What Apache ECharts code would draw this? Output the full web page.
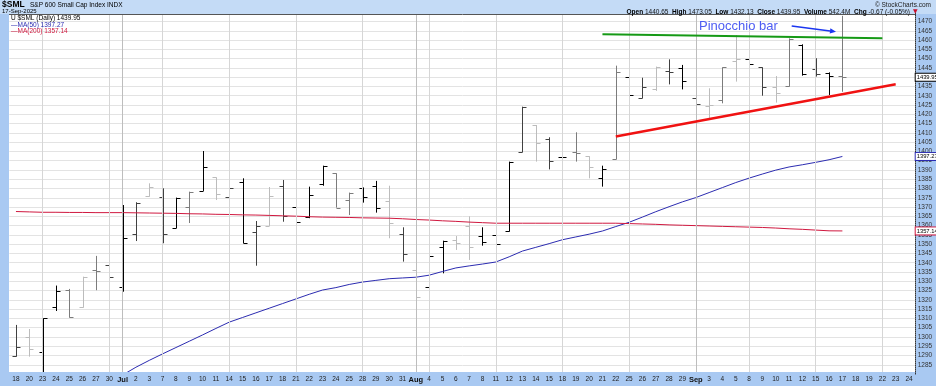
<!DOCTYPE html>
<html><head><meta charset="utf-8">
<script src="https://cdn.jsdelivr.net/npm/echarts@6/dist/echarts.min.js"></script>
<style>html,body{margin:0;padding:0;background:#fff}#c{width:936px;height:386px}</style>
</head><body><div id="c"></div>
<script>
// ---------- DATA ----------
const dates = [
 '2025-06-18','2025-06-20','2025-06-23','2025-06-24','2025-06-25','2025-06-26','2025-06-27','2025-06-30',
 '2025-07-01','2025-07-02','2025-07-03','2025-07-07','2025-07-08','2025-07-09','2025-07-10','2025-07-11',
 '2025-07-14','2025-07-15','2025-07-16','2025-07-17','2025-07-18','2025-07-21','2025-07-22','2025-07-23',
 '2025-07-24','2025-07-25','2025-07-28','2025-07-29','2025-07-30','2025-07-31',
 '2025-08-01','2025-08-04','2025-08-05','2025-08-06','2025-08-07','2025-08-08','2025-08-11','2025-08-12',
 '2025-08-13','2025-08-14','2025-08-15','2025-08-18','2025-08-19','2025-08-20','2025-08-21','2025-08-22',
 '2025-08-25','2025-08-26','2025-08-27','2025-08-28','2025-08-29',
 '2025-09-02','2025-09-03','2025-09-04','2025-09-05','2025-09-08','2025-09-09','2025-09-10','2025-09-11',
 '2025-09-12','2025-09-15','2025-09-16','2025-09-17','2025-09-18','2025-09-19','2025-09-22','2025-09-23','2025-09-24'
];
const tickLabels = [
 '18','20','23','24','25','26','27','30',
 'Jul','2','3','7','8','9','10','11','14','15','16','17','18','21','22','23','24','25','28','29','30','31',
 'Aug','4','5','6','7','8','11','12','13','14','15','18','19','20','21','22','25','26','27','28','29',
 'Sep','3','4','5','8','9','10','11','12','15','16','17','18','19','22','23','24'
];
const monthStartLabels = ['Jul','Aug','Sep'];

const opens = [1290.0,1299.9,1291.7,1316.4,1325.4,1316.0,1336.3,1338.8,1327.1,1355.3,
 1376.0,1375.6,1358.8,1370.2,1378.9,1386.0,1375.3,1383.7,1356.4,1359.8,
 1381.4,1369.9,1364.9,1382.6,1388.2,1373.6,1380.1,1381.2,1373.1,1355.3,
 1336.1,1326.8,1348.7,1352.3,1359.8,1354.2,1355.0,1357.1,1399.5,1414.1,
 1406.7,1397.2,1399.5,1397.4,1385.5,1395.7,1440.1,1428.6,1433.6,1443.3,
 1444.8,1428.6,1424.5,1427.5,1448.9,1449.6,1445.3,1434.9,1435.3,1457.4,
 1444.4,1442.3,1440.65];
const highs = [1306.5,1304.3,1310.1,1327.7,1325.9,1332.5,1343.7,1341.0,1371.1,1372.6,
 1382.8,1380.1,1375.1,1378.3,1400.2,1386.0,1380.1,1385.5,1362.5,1380.8,
 1384.6,1376.0,1381.0,1392.3,1388.2,1377.8,1380.6,1384.1,1381.5,1359.1,
 1336.1,1343.8,1351.9,1354.4,1365.0,1359.1,1360.4,1394.5,1424.1,1414.2,
 1407.6,1401.3,1410.3,1397.4,1392.3,1446.2,1440.3,1439.7,1445.7,1449.6,
 1446.6,1428.6,1434.0,1445.3,1462.7,1449.6,1445.3,1440.6,1460.9,1457.7,
 1450.2,1442.6,1473.05];
const lows = [1289.4,1289.4,1281.0,1314.0,1310.4,1315.8,1325.2,1329.8,1324.4,1351.7,
 1375.6,1350.5,1358.6,1361.4,1378.7,1373.8,1370.8,1350.5,1338.4,1359.8,
 1362.1,1360.9,1364.0,1381.5,1369.7,1365.7,1372.4,1367.0,1353.2,1340.6,
 1303.8,1326.6,1334.3,1346.9,1341.5,1349.2,1347.8,1356.8,1399.5,1394.5,
 1390.3,1393.2,1394.5,1385.5,1381.0,1395.7,1429.9,1428.6,1432.6,1436.1,
 1433.4,1415.5,1417.8,1425.9,1437.6,1435.3,1430.0,1426.3,1434.9,1440.8,
 1440.3,1430.4,1432.13];
const closes = [1294.8,1293.6,1310.0,1324.8,1310.8,1332.3,1335.6,1332.5,1353.5,1372.0,
 1380.7,1355.3,1374.7,1378.0,1391.4,1376.9,1380.1,1350.5,1360.0,1376.0,
 1365.0,1361.8,1376.5,1392.0,1369.7,1377.4,1375.6,1369.7,1361.2,1344.5,
 1321.4,1343.6,1351.6,1350.5,1348.3,1351.4,1349.9,1394.5,1424.0,1404.5,
 1394.8,1397.2,1399.0,1391.4,1390.3,1442.6,1430.2,1434.7,1445.3,1443.0,
 1437.9,1425.4,1425.0,1445.3,1449.6,1446.9,1434.9,1431.3,1460.4,1441.5,
 1441.7,1440.62,1439.95];

const sma50 = [null,null,null,null,null,null,
 1272.0,1275.8,1279.5,1283.7,1287.4,1290.9,1294.3,1297.7,1301.1,1304.6,
 1308.0,1310.5,1313.0,1315.5,1318.0,1320.5,1323.0,1325.3,1326.6,1328.3,
 1329.6,1330.5,1331.4,1331.8,1332.2,1333.3,1335.3,1337.2,1338.3,1339.3,
 1340.4,1343.2,1346.3,1348.3,1350.3,1352.4,1353.9,1355.4,1357.1,1359.5,
 1361.8,1364.6,1367.5,1370.2,1372.8,1375.1,1377.8,1380.5,1383.2,1385.6,
 1387.8,1389.9,1391.6,1392.8,1394.1,1395.5,1397.27,
 null,null,null,null,null];
const sma200 = [1367.6,1367.4,1367.2,1367.2,1367.1,1367.1,1367.0,1367.0,1367.0,1366.9,
 1366.8,1366.7,1366.6,1366.4,1366.3,1366.1,1366.0,1365.8,1365.7,1365.5,
 1365.3,1365.1,1364.8,1364.6,1364.5,1364.4,1364.2,1364.1,1364.0,1363.7,
 1363.3,1363.0,1362.6,1362.3,1361.9,1361.6,1361.3,1361.3,1361.3,1361.3,
 1361.3,1361.3,1361.3,1361.3,1361.3,1361.3,1361.1,1360.9,1360.7,1360.4,
 1360.2,1360.0,1359.8,1359.6,1359.4,1359.2,1359.0,1358.7,1358.3,1358.0,
 1357.6,1357.2,1357.14,
 null,null,null,null,null];

// trendlines drawn by hand on the original chart: [category index, value]
const greenTrend = [[44,1463.1],[65,1461.0]];
const redTrend = [[45,1408.0],[66,1436.2]];

const headerStats = {open:'1440.65', high:'1473.05', low:'1432.13', close:'1439.95', volume:'542.4M', chg:'-0.67 (-0.05%)'};

// ---------- STYLE ----------
const barTone = "dlkkglgdkdldkgkldkdldkkkggkkldlkkllkkkdldkglkgkdldkdlglkdlgkdkg";
const toneColor = {k:'#000000', d:'#404040', g:'#7c7c7c', l:'#bcbcbc'};
const FONT = 'Liberation Sans, Arial, sans-serif';
const BAND = '#a9c9f2';

const chart = echarts.init(document.getElementById('c'), null, {renderer:'canvas'});

const ohlc = opens.map((o,i)=>[i,o,highs[i],lows[i],closes[i]]);

// vertical gridlines: first trading day of each week & of each month
const vLines = [];
for (let i=1;i<dates.length;i++){
  const d = new Date(dates[i]+'T12:00:00Z'), p = new Date(dates[i-1]+'T12:00:00Z');
  const newMonth = d.getUTCMonth()!==p.getUTCMonth();
  const newWeek = d.getUTCDay()<=p.getUTCDay() || (d-p)>4*86400000;
  if (newMonth||newWeek) vLines.push({xAxis:dates[i], lineStyle:{color:newMonth?'#bdbdbd':'#d6d6d6', width:1, type:'solid'}});
}

const last = closes.length-1;
function boxLabel(v, col){
  return {yAxis:v, lineStyle:{color:'rgba(0,0,0,0)', width:1, opacity:1}, label:{show:true, position:'end', distance:0,
    formatter: v.toFixed(2), color:'#000', backgroundColor:'#fff', borderColor:col, borderWidth:1,
    padding:[1,0,0,1], fontSize:5.8, fontFamily:FONT, opacity:1}};
}

const arrowStart=[791.7,26], arrowEnd=[836,31.7];
const adx=arrowEnd[0]-arrowStart[0], ady=arrowEnd[1]-arrowStart[1], alen=Math.hypot(adx,ady);
const ux=adx/alen, uy=ady/alen;
const hb=[arrowEnd[0]-6*ux, arrowEnd[1]-6*uy];

const option = {
  animation:false,
  backgroundColor:'#ffffff',
  grid:{left:9.3, right:20.3, top:12.2, bottom:11.9, containLabel:false},
  xAxis:{type:'category', data:dates, boundaryGap:true, z:60,
    axisLine:{show:false}, axisTick:{show:false}, splitLine:{show:false},
    axisLabel:{interval:0, margin:1.5, color:'#222', fontFamily:FONT,
      formatter:(v,idx)=>{const t=tickLabels[idx]; return monthStartLabels.includes(t)?'{m|'+t+'}':'{d|'+t+'}';},
      rich:{m:{fontWeight:'bold',fontSize:7.5,fontFamily:FONT,color:'#111'}, d:{fontSize:6.5,fontFamily:FONT,color:'#222'}}}},
  yAxis:[
    {type:'value', min:1280, max:1475, interval:5, position:'right', z:0,
      axisLine:{show:false}, axisTick:{show:false}, axisLabel:{show:false},
      splitLine:{show:true, lineStyle:{color:'#e3e3e3', width:1}}},
    {type:'value', min:1280, max:1475, interval:5, position:'right', z:60,
      axisLine:{show:true, lineStyle:{color:'#333', type:'dotted', width:1}}, axisTick:{show:false},
      splitLine:{show:false},
      axisLabel:{margin:2, fontSize:6.5, color:'#333', fontFamily:FONT,
        formatter:v=>(v<=1280||v>=1475)?'':String(v)}}
  ],
  series:[
    {type:'line', data:[], z:1, silent:true,
      markLine:{silent:true, symbol:['none','none'], label:{show:false}, data:vLines}},
    {type:'custom', name:'$SML', data:ohlc, z:3, clip:true, encode:{x:0,y:[1,2,3,4]},
      renderItem:(params, api)=>{
        const i=api.value(0);
        const pH=api.coord([i,api.value(2)]), pL=api.coord([i,api.value(3)]);
        const pO=api.coord([i,api.value(1)]), pC=api.coord([i,api.value(4)]);
        const x=Math.round(pH[0])+0.5, w=4;
        const col=toneColor[barTone[params.dataIndex]]||'#000';
        const yO=Math.round(pO[1])+0.5, yC=Math.round(pC[1])+0.5;
        return {type:'group', children:[
          {type:'line', shape:{x1:x,y1:pH[1],x2:x,y2:pL[1]}, style:{stroke:col,lineWidth:1}},
          {type:'line', shape:{x1:x-w,y1:yO,x2:x,y2:yO}, style:{stroke:col,lineWidth:1}},
          {type:'line', shape:{x1:x,y1:yC,x2:x+w,y2:yC}, style:{stroke:col,lineWidth:1}}
        ]};
      }},
    {type:'line', name:'MA(50)', data:sma50, z:4, symbol:'none', connectNulls:false,
      lineStyle:{color:'#2b2bb0', width:1}},
    {type:'line', name:'MA(200)', data:sma200, z:4, symbol:'none',
      lineStyle:{color:'#d0183f', width:1}},
    {type:'line', data:[], z:6, silent:true,
      markLine:{silent:true, symbol:['none','none'], label:{show:false}, data:[
        [{coord:[dates[greenTrend[0][0]],greenTrend[0][1]]},{coord:[dates[greenTrend[1][0]],greenTrend[1][1]]}],
        [{coord:[dates[redTrend[0][0]],redTrend[0][1]]},{coord:[dates[redTrend[1][0]],redTrend[1][1]]}]
      ].map((d,k)=>{d[0].lineStyle={color:k===0?'#169a16':'#f01212', width:k===0?2:2.5, type:'solid'}; return d;})}},
    {type:'line', data:[], z:65, zlevel:0, silent:true,
      markLine:{silent:true, symbol:['none','none'], z:65, data:[
        boxLabel(closes[last],'#000'),
        boxLabel(sma50[last],'#2b2bb0'),
        boxLabel(sma200[last],'#d0183f')
      ]}}
  ],
  graphic:{elements:[
    {type:'rect', z:45, silent:true, shape:{x:0,y:0,width:936,height:14}, style:{fill:'#c4dbf6'}},
    {type:'line', z:46, silent:true, shape:{x1:9,y1:14.5,x2:916,y2:14.5}, style:{stroke:'#555',lineWidth:1}},
    {type:'rect', z:45, silent:true, shape:{x:0,y:14,width:9,height:372}, style:{fill:BAND}},
    {type:'rect', z:45, silent:true, shape:{x:915.7,y:14,width:21,height:372}, style:{fill:BAND}},
    {type:'rect', z:45, silent:true, shape:{x:0,y:372,width:936,height:14}, style:{fill:BAND}},
    {type:'text', z:70, x:2, y:0, style:{text:'$SML', fontSize:8.5, fontWeight:'bold', fontFamily:FONT, fill:'#000', textVerticalAlign:'top', verticalAlign:'top'}},
    {type:'text', z:70, x:30, y:1.5, style:{text:'S&P 600 Small Cap Index INDX', fontSize:6.5, fontFamily:FONT, fill:'#000', textVerticalAlign:'top', verticalAlign:'top'}},
    {type:'text', z:70, x:2, y:8, style:{text:'17-Sep-2025', fontSize:6, fontFamily:FONT, fill:'#000', textVerticalAlign:'top', verticalAlign:'top'}},
    {type:'text', z:70, x:931, y:1.5, style:{text:'© StockCharts.com', fontSize:6.5, fontFamily:FONT, fill:'#222', textAlign:'right', align:'right', textVerticalAlign:'top', verticalAlign:'top'}},
    {type:'text', z:70, x:910, y:8.5, style:{
      text:'{b|Open} '+headerStats.open+'  {b|High} '+headerStats.high+'  {b|Low} '+headerStats.low+'  {b|Close} '+headerStats.close+'  {b|Volume} '+headerStats.volume+'  {b|Chg} '+headerStats.chg,
      fontSize:6.5, fontFamily:FONT, fill:'#111', textAlign:'right', align:'right', textVerticalAlign:'top', verticalAlign:'top',
      rich:{b:{fontWeight:'bold', fontSize:6.5, fontFamily:FONT, fill:'#000', color:'#000'}}}},
    {type:'text', z:70, x:913, y:8.5, style:{text:'▼', fontSize:6, fontFamily:'DejaVu Sans', fill:'#c8102e', textVerticalAlign:'top', verticalAlign:'top'}},
    {type:'text', z:70, x:11, y:14.5, style:{text:'U $SML (Daily) '+closes[last].toFixed(2), fontSize:6.5, fontFamily:FONT, fill:'#000', textVerticalAlign:'top', verticalAlign:'top'}},
    {type:'text', z:70, x:11, y:21.5, style:{text:'—MA(50) '+sma50[last].toFixed(2), fontSize:6.5, fontFamily:FONT, fill:'#2b2bb0', textVerticalAlign:'top', verticalAlign:'top'}},
    {type:'text', z:70, x:11, y:28, style:{text:'—MA(200) '+sma200[last].toFixed(2), fontSize:6.5, fontFamily:FONT, fill:'#d0183f', textVerticalAlign:'top', verticalAlign:'top'}},
    {type:'text', z:70, x:699, y:26, style:{text:'Pinocchio bar', fontSize:13, fontFamily:FONT, fill:'#4d5cf2', textVerticalAlign:'middle', verticalAlign:'middle'}},
    {type:'line', z:70, shape:{x1:arrowStart[0],y1:arrowStart[1],x2:hb[0],y2:hb[1]}, style:{stroke:'#1b36f0',lineWidth:1.5}},
    {type:'polygon', z:70, shape:{points:[arrowEnd,[hb[0]-2.6*uy,hb[1]+2.6*ux],[hb[0]+2.6*uy,hb[1]-2.6*ux]]}, style:{fill:'#1b36f0'}}
  ]}
};
chart.setOption(option);
</script>
</body></html>
